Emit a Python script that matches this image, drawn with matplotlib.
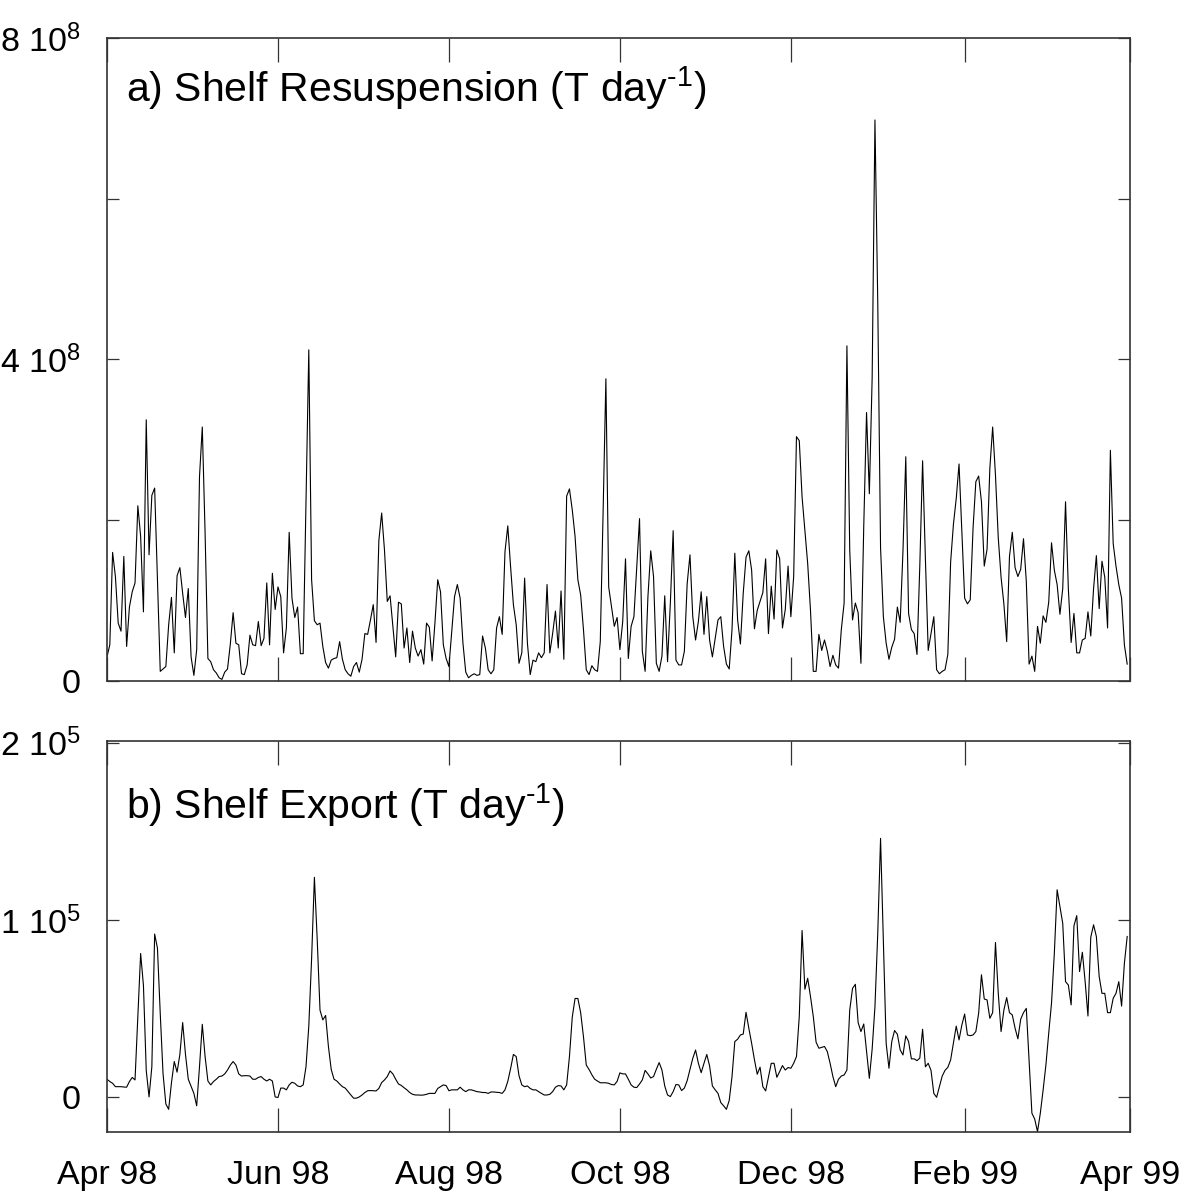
import datetime as dt

import matplotlib
matplotlib.use("Agg")
import matplotlib.pyplot as plt
import matplotlib.dates as mdates
import numpy as np

plt.rcParams["font.family"] = ["Liberation Sans", "DejaVu Sans"]
plt.rcParams["mathtext.fontset"] = "custom"
plt.rcParams["mathtext.rm"] = "Liberation Sans"
plt.rcParams["mathtext.it"] = "Liberation Sans:italic"
plt.rcParams["mathtext.bf"] = "Liberation Sans:bold"

start = dt.date(1998, 4, 1)
end = dt.date(1999, 4, 1)

# daily shelf resuspension, units of 1e8 T/day, starting 1 Apr 1998
resusp_scale = 1e8
resuspension = [
    0.30, 0.45, 1.60, 1.30, 0.72, 0.62, 1.55, 0.43, 0.92, 1.11,
    1.22, 2.18, 1.80, 0.86, 3.25, 1.57, 2.31, 2.40, 1.26, 0.12,
    0.15, 0.18, 0.70, 1.04, 0.35, 1.31, 1.41, 1.09, 0.79, 1.15,
    0.30, 0.07, 0.39, 2.54, 3.16, 1.84, 0.28, 0.24, 0.14, 0.10,
    0.04, 0.02, 0.11, 0.15, 0.46, 0.85, 0.47, 0.45, 0.09, 0.08,
    0.20, 0.57, 0.45, 0.44, 0.74, 0.44, 0.53, 1.22, 0.45, 1.34,
    0.89, 1.17, 1.05, 0.35, 0.66, 1.85, 1.03, 0.79, 0.92, 0.34,
    0.34, 2.20, 4.12, 1.26, 0.75, 0.70, 0.72, 0.43, 0.23, 0.16,
    0.26, 0.28, 0.29, 0.49, 0.27, 0.14, 0.09, 0.06, 0.18, 0.23,
    0.11, 0.27, 0.59, 0.58, 0.76,
    0.95, 0.48, 1.75, 2.09, 1.63, 0.99, 1.06, 0.68, 0.30, 0.98,
    0.96, 0.41, 0.66, 0.23, 0.62, 0.41, 0.31, 0.39, 0.21, 0.72,
    0.67, 0.25, 0.72, 1.26, 1.11, 0.45, 0.28, 0.18, 0.61, 1.05,
    1.20, 1.03, 0.47, 0.11, 0.04, 0.07, 0.09, 0.07, 0.08, 0.56,
    0.41, 0.14, 0.09, 0.14, 0.66, 0.80, 0.58, 1.61, 1.93, 1.42,
    0.95, 0.70, 0.22, 0.35, 1.28, 0.47, 0.08, 0.26, 0.24, 0.35,
    0.29, 0.35, 1.20, 0.35, 0.59, 0.87, 0.41, 1.12, 0.27, 2.30,
    2.39, 2.13, 1.80, 1.26, 1.07, 0.64, 0.14, 0.08, 0.19, 0.14,
    0.12, 0.49, 2.09, 3.76, 1.17, 0.92, 0.68, 0.79, 0.39, 0.74,
    1.52, 0.28,
    0.68, 0.80, 1.42, 2.02, 0.37, 0.12, 1.05, 1.62, 1.30, 0.22,
    0.12, 0.31, 1.06, 0.24, 0.97, 1.87, 0.26, 0.20, 0.20, 0.37,
    1.21, 1.57, 0.80, 0.51, 0.74, 1.11, 0.58, 1.05, 0.51, 0.30,
    0.53, 0.76, 0.80, 0.43, 0.21, 0.15, 0.64, 1.59, 0.76, 0.46,
    1.09, 1.54, 1.62, 1.38, 0.65, 0.88, 0.99, 1.10, 1.52, 0.59,
    1.18, 0.77, 1.63, 1.52, 0.66, 0.89, 1.43, 0.80, 1.30, 3.04,
    2.99, 2.29, 1.88, 1.46, 0.88, 0.12, 0.12, 0.58, 0.38, 0.51,
    0.37, 0.18, 0.32, 0.20, 0.16, 0.64, 0.97, 4.17, 1.63, 0.76,
    0.97, 0.85, 0.22, 1.92, 3.34, 2.33,
    3.77, 6.98, 4.71, 1.66, 0.80, 0.47, 0.27, 0.42, 0.52, 0.92,
    0.73, 1.62, 2.79, 0.84, 0.64, 0.59, 0.33, 1.43, 2.74, 1.52,
    0.38, 0.59, 0.80, 0.14, 0.09, 0.12, 0.14, 0.33, 1.48, 1.95,
    2.27, 2.70, 1.85, 1.03, 0.96, 1.01, 1.90, 2.48, 2.55, 2.23,
    1.43, 1.64, 2.65, 3.16, 2.56, 1.78, 1.29, 0.96, 0.49, 1.55,
    1.85, 1.41, 1.30, 1.39, 1.77, 1.24, 0.21, 0.31, 0.12, 0.68,
    0.47, 0.81, 0.73, 0.98, 1.72, 1.38, 1.20, 0.83, 1.15, 2.23,
    1.15, 0.48, 0.84, 0.35, 0.35, 0.51, 0.53, 0.86, 0.56, 1.15,
    1.56, 0.90, 1.49, 1.29, 0.66, 2.87, 1.71, 1.43, 1.20, 1.03,
    0.45, 0.21,
]

# daily shelf export, units of 1e5 T/day
export_scale = 1e5
export = [
    0.10, 0.087, 0.077, 0.058, 0.058, 0.058, 0.056, 0.055, 0.087, 0.11,
    0.096, 0.45, 0.81, 0.63, 0.15, 0.0, 0.17, 0.92, 0.84, 0.47,
    0.13, -0.04, -0.07, 0.08, 0.20, 0.14, 0.24, 0.42, 0.24, 0.10,
    0.06, 0.02, -0.05, 0.17, 0.41, 0.228, 0.09, 0.068, 0.087, 0.10,
    0.115, 0.118, 0.13, 0.152, 0.18, 0.20, 0.18, 0.13, 0.118, 0.12,
    0.12, 0.118, 0.10, 0.10, 0.11, 0.115, 0.10, 0.09, 0.10, 0.09,
    0.0, -0.003, 0.05, 0.05, 0.04, 0.068, 0.083, 0.077, 0.062, 0.058,
    0.068, 0.17, 0.40, 0.78, 1.24, 0.89, 0.49, 0.435, 0.46, 0.285,
    0.155, 0.10, 0.09, 0.073, 0.058, 0.05, 0.03, 0.011, -0.007, -0.007,
    0.0, 0.011, 0.025, 0.035,
    0.036, 0.035, 0.034, 0.048, 0.081, 0.096, 0.115, 0.147, 0.13, 0.10,
    0.073, 0.065, 0.052, 0.04, 0.025, 0.015, 0.011, 0.011, 0.01, 0.011,
    0.015, 0.02, 0.02, 0.02, 0.048, 0.058, 0.068, 0.064, 0.035, 0.04,
    0.04, 0.04, 0.055, 0.04, 0.03, 0.04, 0.04, 0.035, 0.03, 0.028,
    0.025, 0.025, 0.02, 0.028, 0.028, 0.026, 0.025, 0.02, 0.04, 0.088,
    0.16, 0.24, 0.228, 0.12, 0.068, 0.058, 0.062, 0.048, 0.04, 0.04,
    0.03, 0.02, 0.011, 0.011, 0.015, 0.03, 0.055, 0.064, 0.062, 0.04,
    0.068, 0.228, 0.45, 0.556, 0.556, 0.476, 0.34, 0.18, 0.155, 0.125,
    0.10, 0.09, 0.08, 0.08, 0.08, 0.077, 0.07, 0.068, 0.088, 0.136,
    0.13, 0.13, 0.10,
    0.068, 0.055, 0.053, 0.073, 0.096, 0.15, 0.13, 0.107, 0.115, 0.156,
    0.194, 0.152, 0.062, 0.011, 0.002, 0.03, 0.07, 0.068, 0.036, 0.05,
    0.092, 0.156, 0.218, 0.265, 0.19, 0.137, 0.19, 0.24, 0.175, 0.062,
    0.04, 0.02, -0.032, -0.05, -0.07, -0.02, 0.115, 0.313, 0.326, 0.35,
    0.355, 0.478, 0.388, 0.303, 0.21, 0.128, 0.168, 0.058, 0.034, 0.111,
    0.19, 0.19, 0.111, 0.143, 0.177, 0.152, 0.166, 0.162, 0.19, 0.228,
    0.454, 0.94, 0.608, 0.67, 0.567, 0.454, 0.309, 0.275, 0.28, 0.285,
    0.256, 0.19, 0.115, 0.058, 0.1, 0.118, 0.124, 0.152, 0.49, 0.613,
    0.636, 0.42, 0.369, 0.412, 0.256, 0.105, 0.27, 0.51, 0.924, 1.46,
    0.88, 0.303, 0.162, 0.313, 0.375, 0.354, 0.266, 0.237, 0.345, 0.313,
    0.215, 0.215, 0.205, 0.219, 0.382, 0.17, 0.19, 0.15, 0.02, -0.002,
    0.058, 0.118, 0.15, 0.167, 0.209, 0.303, 0.40, 0.322, 0.406, 0.468,
    0.35, 0.346, 0.35, 0.369, 0.473, 0.69, 0.553, 0.548, 0.444, 0.476,
    0.872, 0.585, 0.369, 0.491, 0.561, 0.476, 0.463, 0.388, 0.328, 0.439,
    0.476, 0.5, 0.209, -0.092, -0.125, -0.196, -0.092, 0.039, 0.181, 0.36,
    0.53, 0.81, 1.17, 1.076, 0.98, 0.651, 0.632, 0.52, 0.966, 1.024,
    0.708, 0.817, 0.651, 0.457, 0.902, 0.972, 0.906, 0.68, 0.585, 0.585,
    0.476, 0.476, 0.557, 0.585, 0.651, 0.513, 0.755, 0.906,
]

month_ticks = [dt.date(1998, m, 1) for m in (4, 6, 8, 10, 12)] + \
              [dt.date(1999, 2, 1), dt.date(1999, 4, 1)]

top_yticks = [0, 2e8, 4e8, 6e8, 8e8]
top_ylabels = ["0", "", r"4 10$^8$", "", r"8 10$^8$"]
bot_yticks = [0, 1e5, 2e5]
bot_ylabels = ["0", r"1 10$^5$", r"2 10$^5$"]

dates_r = [start + dt.timedelta(days=i) for i in range(len(resuspension))]
dates_e = [start + dt.timedelta(days=i) for i in range(len(export))]

fig = plt.figure(figsize=(11.99, 11.98), dpi=100)
W, H = 1199, 1198
ax1 = fig.add_axes([107 / W, 1 - 681 / H, 1023 / W, 643 / H])
ax2 = fig.add_axes([107 / W, 1 - 1132 / H, 1023 / W, 391 / H])

ax1.plot(dates_r, np.array(resuspension) * resusp_scale, color="black", lw=0.8)
ax2.plot(dates_e, np.array(export) * export_scale, color="black", lw=0.8)

for ax in (ax1, ax2):
    ax.set_xlim(start, end)
    ax.set_xticks(month_ticks)
    ax.xaxis.set_major_formatter(mdates.DateFormatter("%b %y"))
    ax.tick_params(axis="x", direction="in", length=17, width=0.9,
                   top=True, bottom=True, labelsize=24.5, pad=20,
                   color="#333333")
    ax.tick_params(axis="y", direction="in", length=8.5, width=0.9,
                   left=True, right=True, labelsize=24.5, pad=19,
                   color="#333333")
    for s in ax.spines.values():
        s.set_linewidth(1.2)
        s.set_color("#333333")

ax1.set_ylim(0, 8e8)
ax1.set_yticks(top_yticks)
ax1.set_yticklabels(top_ylabels)
ax1.tick_params(axis="x", labelbottom=False)

ax2.set_ylim(-0.198e5, 2.01e5)
ax2.set_yticks(bot_yticks)
ax2.set_yticklabels(bot_ylabels)

ax1.text(0.019, 0.922, r"a) Shelf Resuspension (T day$^{\text{-1}}$)",
         transform=ax1.transAxes, fontsize=29.5, va="center", ha="left")
ax2.text(0.019, 0.836, r"b) Shelf Export (T day$^{\text{-1}}$)",
         transform=ax2.transAxes, fontsize=29.5, va="center", ha="left")

fig.savefig("out.png", dpi=100)
